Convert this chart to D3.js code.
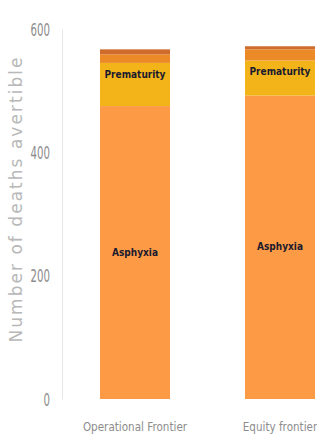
<!DOCTYPE html>
<html>
<head>
<meta charset="utf-8">
<script src="https://cdn.jsdelivr.net/npm/d3@7"></script>
<style>
  body { margin: 0; background: #fff; }
  svg { display: block; }
</style>
</head>
<body>
<div id="chart"></div>
<script>
const categories = ["Operational Frontier", "Equity frontier"];
const causes = ["Asphyxia", "Prematurity", "Other", "Sepsis"];
const asphyxia = [475, 492];
const prematurity = [70, 57];
const other = [14, 18];
const sepsis = [8, 5];
const yTicks = [0, 200, 400, 600];
const colors = ["#fd9a45", "#f3b41a", "#ec8a28", "#cf6c2c"];

const width = 317, height = 443;

const rows = categories.map((c, i) => ({
    cat: c,
    Asphyxia: asphyxia[i],
    Prematurity: prematurity[i],
    Other: other[i],
    Sepsis: sepsis[i]
}));

const svg = d3.select("#chart").append("svg")
    .attr("width", width)
    .attr("height", height);

const x = d3.scaleBand().domain(categories).range([62, 353])
    .paddingInner(0.517).paddingOuter(0.262);
const y = d3.scaleLinear().domain([0, 600]).range([399, 29]);

const stack = d3.stack().keys(causes)(rows);

svg.selectAll(".layer")
    .data(stack)
  .enter().append("g")
    .attr("class", "layer")
    .attr("fill", (d, i) => colors[i])
  .selectAll("rect")
    .data(d => d)
  .enter().append("rect")
    .attr("x", d => x(d.data.cat))
    .attr("width", x.bandwidth())
    .attr("y", d => y(d[1]))
    .attr("height", d => y(d[0]) - y(d[1]));

// segment labels: Asphyxia centred, Prematurity near top of its band
const labelData = [];
stack[0].forEach(d => labelData.push({ cat: d.data.cat, text: "Asphyxia", py: y((d[0] + d[1]) / 2) + 3 }));
stack[1].forEach(d => labelData.push({ cat: d.data.cat, text: "Prematurity", py: y(d[1]) + 15 }));

svg.selectAll(".seglabel")
    .data(labelData)
  .enter().append("text")
    .attr("class", "seglabel")
    .attr("x", d => x(d.cat) + x.bandwidth() / 2)
    .attr("y", d => d.py)
    .attr("text-anchor", "middle")
    .attr("font-family", "'DejaVu Sans Condensed', 'DejaVu Sans', sans-serif")
    .attr("font-weight", "bold")
    .attr("font-size", 10)
    .attr("fill", "#1a1a2e")
    .text(d => d.text);

// y axis
const yAxis = svg.append("g")
    .attr("transform", "translate(62,0)")
    .call(d3.axisLeft(y).tickValues(yTicks).tickSize(0).tickPadding(0));
yAxis.select(".domain").attr("stroke", "#e6e6e6");
yAxis.selectAll(".tick text")
    .attr("x", null)
    .attr("dy", null)
    .attr("font-family", "'DejaVu Sans', sans-serif")
    .attr("font-size", 17)
    .attr("fill", "#8c8c8c")
    .attr("transform", "translate(-12,6) scale(0.6,1)");

// category labels
svg.selectAll(".cat")
    .data(categories)
  .enter().append("text")
    .attr("class", "cat")
    .attr("transform", d => `translate(${x(d) + x.bandwidth() / 2},431) scale(0.8,1)`)
    .attr("text-anchor", "middle")
    .attr("font-family", "'DejaVu Sans', sans-serif")
    .attr("font-size", 13)
    .attr("fill", "#8c8c8c")
    .text(d => d);

svg.append("text")
    .attr("transform", "translate(22,200) rotate(-90)")
    .attr("text-anchor", "middle")
    .attr("font-family", "'DejaVu Sans', sans-serif")
    .attr("font-size", 17)
    .attr("fill", "#b8b8b8")
    .attr("textLength", 285)
    .attr("lengthAdjust", "spacing")
    .text("Number of deaths avertible");
</script>
</body>
</html>
